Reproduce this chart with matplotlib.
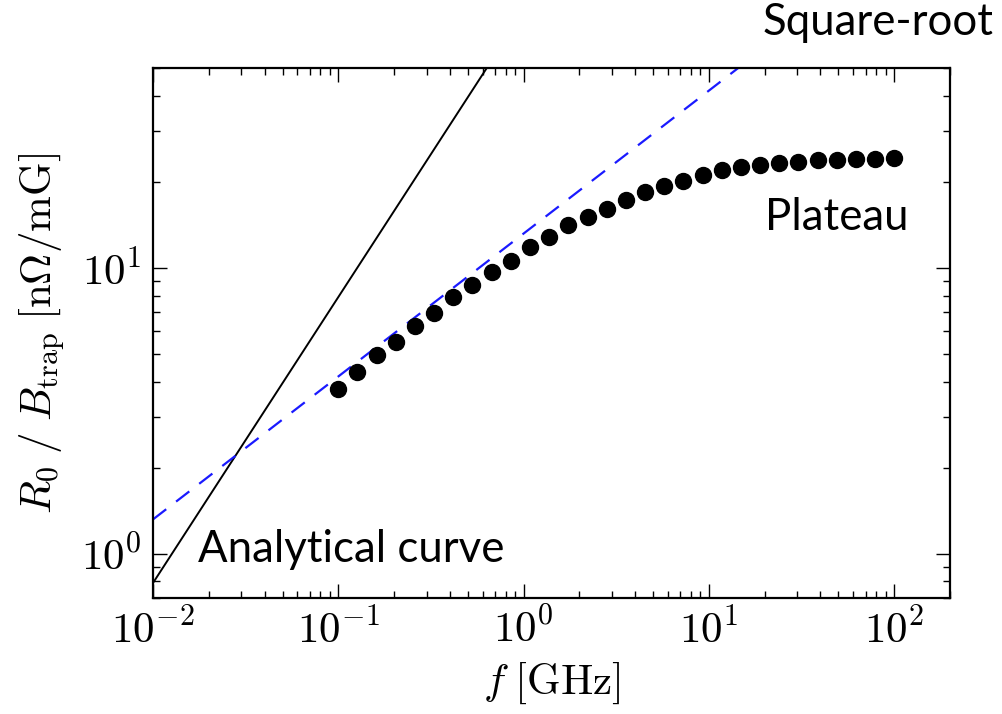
import matplotlib
matplotlib.use("Agg")
import matplotlib.pyplot as plt
from matplotlib.ticker import LogLocator, FuncFormatter
import math

plt.rcParams["mathtext.fontset"] = "cm"
plt.rcParams["lines.scale_dashes"] = False

# Simulated surface resistance per trapped field vs frequency
freq_ghz = [0.1, 0.1269, 0.1610, 0.2043, 0.2593, 0.3290, 0.4175, 0.5298,
            0.6723, 0.8532, 1.0826, 1.3738, 1.7433, 2.2122, 2.8072, 3.5622,
            4.5204, 5.7362, 7.2790, 9.2367, 11.721, 14.874, 18.874, 23.950,
            30.392, 38.566, 48.939, 62.102, 78.805, 100.0]
r_over_b = [3.78, 4.32, 4.95, 5.51, 6.25, 6.96, 7.89, 8.69, 9.68, 10.6,
            11.8, 12.8, 14.1, 15.1, 16.1, 17.3, 18.4, 19.4, 20.2, 21.1,
            21.9, 22.5, 22.9, 23.2, 23.5, 23.8, 23.8, 24.1, 24.1, 24.2]

# Low-frequency analytical limit (linear in f)
analytic_f = [0.01, 1.0]
analytic_r = [0.79, 79.0]

# Intermediate square-root regime
sqrt_f = [0.01, 14.4]
sqrt_r = [1.318, 50.0]

fig = plt.figure(figsize=(10.02, 7.14), dpi=100)
ax = fig.add_axes([0.1527, 0.1625, 0.7954, 0.7423])

ax.plot(analytic_f, analytic_r, color="black", lw=1.4, solid_capstyle="butt")
ax.plot(sqrt_f, sqrt_r, color="#1a1aff", lw=1.6, dashes=(12, 9))
ax.plot(freq_ghz, r_over_b, "o", color="black", ms=11.5, mec="black")

ax.set_xscale("log")
ax.set_yscale("log")
ax.set_xlim(0.01, 200)
ax.set_ylim(0.7, 50)


def pow10_label(v, pos):
    if v <= 0:
        return ""
    return r"$10^{%d}$" % int(round(math.log10(v)))


for a in (ax.xaxis, ax.yaxis):
    a.set_major_locator(LogLocator(base=10))
    a.set_minor_locator(LogLocator(base=10, subs=range(2, 10)))
    a.set_major_formatter(FuncFormatter(pow10_label))
    a.set_minor_formatter(FuncFormatter(lambda v, p: ""))

ax.tick_params(which="both", direction="in", top=True, right=True,
               width=1.0, colors="black", labelsize=31, pad=8)
ax.tick_params(which="major", length=10)
ax.tick_params(which="minor", length=5)
for s in ax.spines.values():
    s.set_linewidth(1.6)

ax.set_xlabel(r"$f\;[\mathrm{GHz}]$", fontsize=31, labelpad=6)
ax.set_ylabel(r"$R_0\;/\;B_{\mathrm{trap}}\;[\mathrm{n}\Omega/\mathrm{mG}]$",
              fontsize=31, labelpad=10)

W, H = 1002, 714
note_font = dict(family=["Lato", "DejaVu Sans"], fontsize=31.5, color="black",
                 ha="left", va="baseline")
fig.text(763 / W, 1 - 35 / H, "Square-root", **note_font)
fig.text(765 / W, 1 - 230 / H, "Plateau", **note_font)
fig.text(198 / W, 1 - 562 / H, "Analytical curve", **note_font)

fig.savefig("out.png", dpi=100)
